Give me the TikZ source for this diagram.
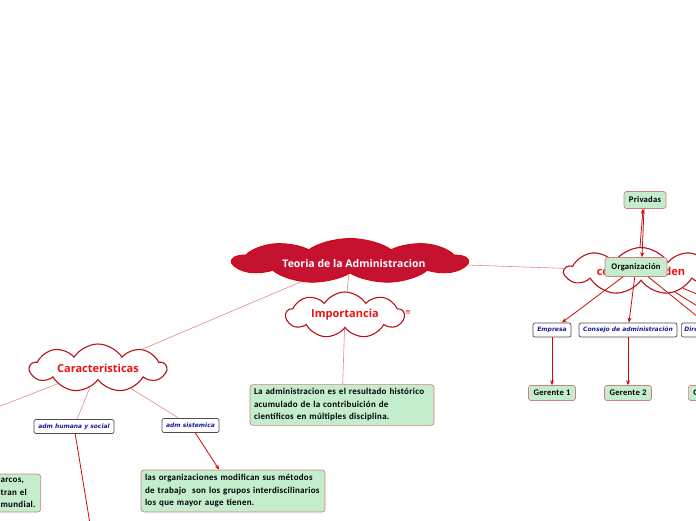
\documentclass[tikz,border=0pt]{standalone}
\usepackage{fontspec}
\setmainfont{Open Sans}
\newfontfamily\boxfont[LetterSpace=3]{Carlito}
\newfontfamily\dvs{DejaVu Sans}
\usetikzlibrary{shapes.symbols,arrows.meta}
\definecolor{crim}{HTML}{C41230}
\definecolor{dred}{HTML}{B5121B}
\definecolor{tred}{HTML}{EE1111}
\definecolor{gfill}{HTML}{C3EDCD}
\definecolor{gdraw}{HTML}{D08080}
\definecolor{navy}{HTML}{1A1A9A}
\definecolor{lred}{HTML}{E38A8A}
\definecolor{ared}{HTML}{CC0A0A}
\tikzset{
  mainCloud/.style={cloud, cloud puffs=9, cloud puff arc=115, cloud ignores aspect,
    fill=crim, draw=red!85!black, line width=0.8pt, inner sep=0pt},
  mainText/.style={text=white, font=\bfseries\fontsize{10.5}{12}\selectfont},
  subCloud/.style={cloud, cloud puffs=9, cloud puff arc=115, cloud ignores aspect,
    fill=white, draw=dred, line width=1.1pt, inner sep=0pt, text=tred,
    font=\bfseries\fontsize{11}{13}\selectfont},
  gbox/.style={rectangle, rounded corners=3pt, fill=gfill, draw=gdraw, line width=0.7pt,
    font=\boxfont\bfseries\fontsize{9}{12.5}\selectfont, align=left, inner sep=4pt},
  sbox/.style={rectangle, rounded corners=2.5pt, fill=gfill, draw=gdraw, line width=0.7pt,
    font=\boxfont\bfseries\fontsize{8.6}{9}\selectfont, inner sep=1pt},
  bbox/.style={rectangle, rounded corners=2pt, fill=white, draw=gray!60!black, line width=0.7pt,
    font=\dvs\bfseries\itshape\fontsize{6}{7}\selectfont, text=navy,
    minimum height=14pt, inner xsep=3pt, inner ysep=1pt},
  arr/.style={draw=ared, line width=0.8pt, -{Stealth[length=5pt,width=4pt]}},
  pline/.style={draw=lred, line width=0.6pt},
  rline/.style={draw=ared, line width=0.8pt},
}
\begin{document}
\begin{tikzpicture}[x=1pt,y=-1pt]
\useasboundingbox (0,0) rectangle (696,520);
\clip (0,0) rectangle (696,520);
% clouds
\node[mainCloud, transform shape, xscale=2, minimum width=117.5pt, minimum height=45pt] (main) at (350,261) {};
\node[mainText] (mainlbl) at (354,264) {Teoria de la Administracion};
\node[subCloud, minimum width=118pt, minimum height=46pt] (imp) at (345,315) {\raisebox{-2pt}{Importancia}};
\node[subCloud, minimum width=136pt, minimum height=48pt] (cara) at (98,368) {\raisebox{-3pt}{Caracteristicas}};
\node[subCloud, minimum width=152pt, minimum height=47pt] (right) at (641,271) {\raisebox{-3pt}{como se dividen}};
\node[text=tred, font=\dvs\fontsize{7}{8}\selectfont] (menu) at (408,313) {≡};
% right side boxes
\node[sbox, minimum width=42pt, minimum height=17pt] (priv) at (645,200) {Privadas};
\node[sbox, minimum width=62pt, minimum height=19pt] (org) at (636,267) {Organización};
\node[bbox, minimum width=38pt] (emp) at (552,330) {Empresa};
\node[bbox, minimum width=98pt] (cons) at (628,330) {Consejo de administración};
\node[bbox, anchor=west] (dir) at (681,330) {Dirección general};
\node[sbox, minimum width=47pt, minimum height=15pt] (g1) at (552,393) {Gerente 1};
\node[sbox, minimum width=47pt, minimum height=15pt] (g2) at (628,393) {Gerente 2};
\node[sbox, minimum width=47pt, minimum height=15pt, anchor=west] (g3) at (688,393) {Gerente 3};
\coordinate (off1) at (760,345);
\coordinate (off2) at (760,320);
% central text box
\node[gbox, text width=176pt, minimum height=39pt] (t1) at (342,405)
  {La administracion es el resultado histórico\\acumulado de la contribuición de\\científicos en múltiples disciplina.};
% left branches
\node[bbox, minimum width=80pt] (ahs) at (74,426.5) {adm humana y social};
\node[bbox, minimum width=57pt] (asis) at (190.5,425.5) {adm sistemica};
\node[gbox, text width=176pt, minimum height=42pt] (t2) at (233,491)
  {las organizaciones modifican sus métodos\\de trabajo \ son los grupos interdiscilinarios\\los que mayor auge tienen.};
\node[gbox, anchor=east, text width=36pt, minimum height=38pt] (t3) at (41,493)
  {arcos,\\tran el\\mundial.};
\coordinate (offl) at (-20,414);
\coordinate (offb) at (91,530);
% connectors
\draw[pline] (main) -- (right);
\draw[pline] (main) -- (cara);
\draw[pline] (main) -- (imp);
\draw[pline] (imp) -- (t1);
\draw[pline] (cara) -- (offl);
\draw[pline] (cara) -- (ahs);
\draw[pline] (cara) -- (asis);
\draw[arr] (asis) -- (t2);
\draw[rline] (ahs) -- (offb);
\draw[arr] ([xshift=-1pt]right.north) -- ([xshift=-2pt]priv.south);
\draw[arr] ([xshift=-1pt]priv.south) -- ([xshift=6pt]org.north);
\draw[arr] (org) -- (emp);
\draw[arr] (org) -- (cons);
\draw[arr] (org) -- (dir);
\draw[rline] (right) -- (off1);
\draw[rline] (right) -- (off2);
\draw[arr] (emp) -- (g1);
\draw[arr] (cons) -- (g2);
\end{tikzpicture}
\end{document}
